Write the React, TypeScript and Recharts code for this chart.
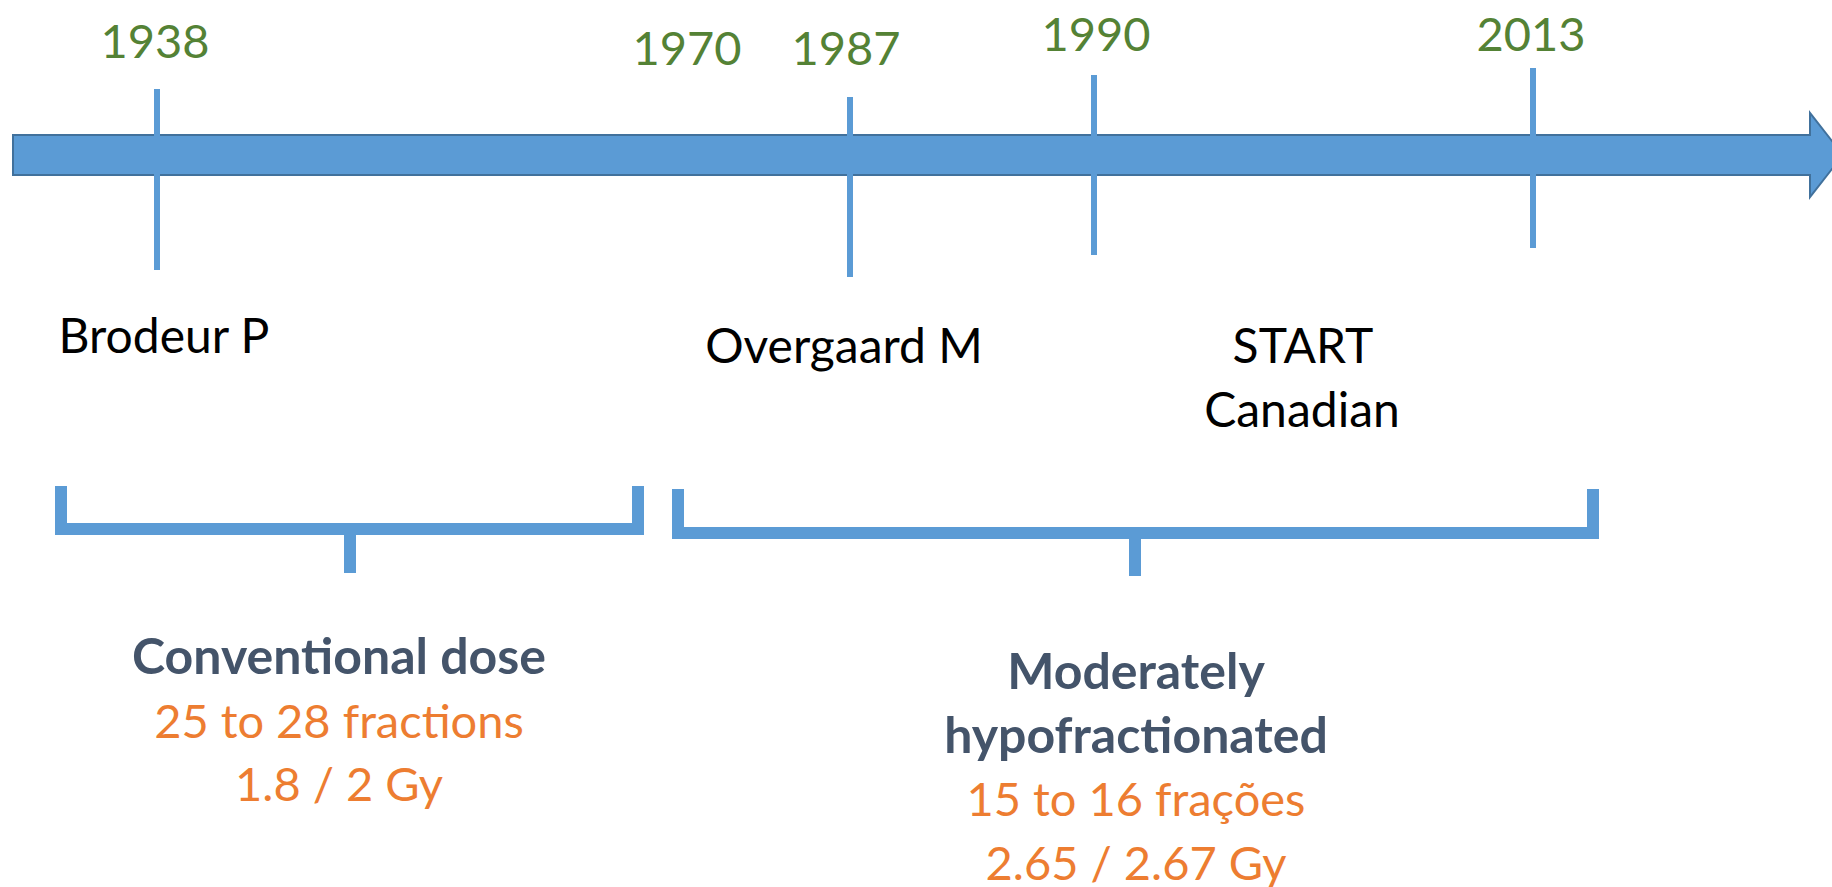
import React from "react";
import {
  ComposedChart,
  XAxis,
  YAxis,
  Scatter,
  ReferenceLine,
  ReferenceArea,
} from "recharts";

const WIDTH = 1832;
const HEIGHT = 887;

// years written above the arrow, with their place along the timeline
const yearLabels = ["1938", "1970", "1987", "1990", "2013"];
const yearLabelPos = [155, 687, 846, 1096, 1531];

// tick marks crossing the arrow
const markerYears = ["1938", "1987", "1990", "2013"];
const markerPos = [157, 850, 1094, 1533];

// studies
const studyNames = ["Brodeur P", "Overgaard M", "START", "Canadian"];
const studyPos = [164, 844, 1303, 1302];

// fractionation periods (brackets)
const periodStart = [55, 672];
const periodEnd = [644, 1599];
const periodMid = [350, 1135];
const periodTextPos = [339, 1136];
const periodHeadings = [["Conventional dose"], ["Moderately", "hypofractionated"]];
const periodFractions = ["25 to 28 fractions", "15 to 16 frações"];
const periodDose = ["1.8 / 2 Gy", "2.65 / 2.67 Gy"];

// vertical layout (rows of the picture, top = 0)
const layout = {
  arrow: { x1: 13, x2: 1843, y1: 113, y2: 197, bodyFrac: 40 / 84, head: 33 },
  yearBaseline: [58, 65, 65, 51, 51],
  markerTop: [89, 97, 75, 68],
  markerBottom: [270, 277, 255, 248],
  studyBaseline: [353, 363, 363, 427],
  bracketTop: [486, 489],
  bracketBottom: [535, 539],
  stemBottom: [573, 576],
  textTop: [674, 689],
  lineStep: 63.5,
  bracketWidth: 12,
};

const BLUE = "#5B9BD5";
const FONT = "Lato, 'Open Sans', sans-serif";

const yearData = yearLabels.map((t, i) => ({ x: yearLabelPos[i], y: layout.yearBaseline[i], text: t }));
const studyData = studyNames.map((t, i) => ({ x: studyPos[i], y: layout.studyBaseline[i], text: t }));

const headingData: { x: number; y: number; text: string }[] = [];
const orangeData: { x: number; y: number; text: string }[] = [];
periodHeadings.forEach((lines, i) => {
  const x = periodTextPos[i];
  let y = layout.textTop[i];
  lines.forEach((t) => {
    headingData.push({ x, y, text: t });
    y += layout.lineStep;
  });
  orangeData.push({ x, y, text: periodFractions[i] });
  y += layout.lineStep;
  orangeData.push({ x, y, text: periodDose[i] });
});

function textShape(color: string, size: number, weight: number) {
  return (props: any) => (
    <text
      x={props.cx}
      y={props.cy}
      textAnchor="middle"
      fill={color}
      fontSize={size}
      fontWeight={weight}
      fontFamily={FONT}
    >
      {props.payload.text}
    </text>
  );
}

const ArrowShape = (props: any) => {
  const { x, y, width, height } = props;
  const cy = y + height / 2;
  const half = (height * layout.arrow.bodyFrac) / 2;
  const hx = x + width - layout.arrow.head;
  const pts = [
    [x, cy - half],
    [hx, cy - half],
    [hx, y],
    [x + width, cy],
    [hx, y + height],
    [hx, cy + half],
    [x, cy + half],
  ]
    .map((p) => p.join(","))
    .join(" ");
  return <polygon points={pts} fill={BLUE} stroke="#41719C" strokeWidth={2} />;
};

export default function App() {
  const bw = layout.bracketWidth;
  return (
    <div style={{ position: "absolute", left: 0, top: 0, background: "#fff" }}>
      <ComposedChart width={WIDTH} height={HEIGHT} margin={{ top: 0, right: 0, bottom: 0, left: 0 }}>
        <XAxis type="number" dataKey="x" domain={[0, WIDTH]} hide />
        <YAxis type="number" dataKey="y" domain={[0, HEIGHT]} reversed hide />

        <ReferenceArea
          x1={layout.arrow.x1}
          x2={layout.arrow.x2}
          y1={layout.arrow.y1}
          y2={layout.arrow.y2}
          ifOverflow="visible"
          shape={ArrowShape}
        />

        {markerYears.map((yr, i) => (
          <ReferenceLine
            key={yr}
            segment={[
              { x: markerPos[i], y: layout.markerTop[i] },
              { x: markerPos[i], y: layout.markerBottom[i] },
            ]}
            stroke={BLUE}
            strokeWidth={6}
          />
        ))}

        {periodStart.map((s, i) => {
          const e = periodEnd[i];
          const top = layout.bracketTop[i];
          const bot = layout.bracketBottom[i];
          const barY = bot - bw / 2;
          return (
            <React.Fragment key={i}>
              <ReferenceLine segment={[{ x: s + bw / 2, y: top }, { x: s + bw / 2, y: bot }]} stroke={BLUE} strokeWidth={bw} />
              <ReferenceLine segment={[{ x: e - bw / 2, y: top }, { x: e - bw / 2, y: bot }]} stroke={BLUE} strokeWidth={bw} />
              <ReferenceLine segment={[{ x: s, y: barY }, { x: e, y: barY }]} stroke={BLUE} strokeWidth={bw} />
              <ReferenceLine
                segment={[{ x: periodMid[i], y: barY }, { x: periodMid[i], y: layout.stemBottom[i] }]}
                stroke={BLUE}
                strokeWidth={bw}
              />
            </React.Fragment>
          );
        })}

        <Scatter data={yearData} shape={textShape("#548235", 47, 400)} isAnimationActive={false} />
        <Scatter data={studyData} shape={textShape("#000000", 48, 400)} isAnimationActive={false} />
        <Scatter data={headingData} shape={textShape("#44546A", 50, 700)} isAnimationActive={false} />
        <Scatter data={orangeData} shape={textShape("#ED7D31", 47, 400)} isAnimationActive={false} />
      </ComposedChart>
    </div>
  );
}
